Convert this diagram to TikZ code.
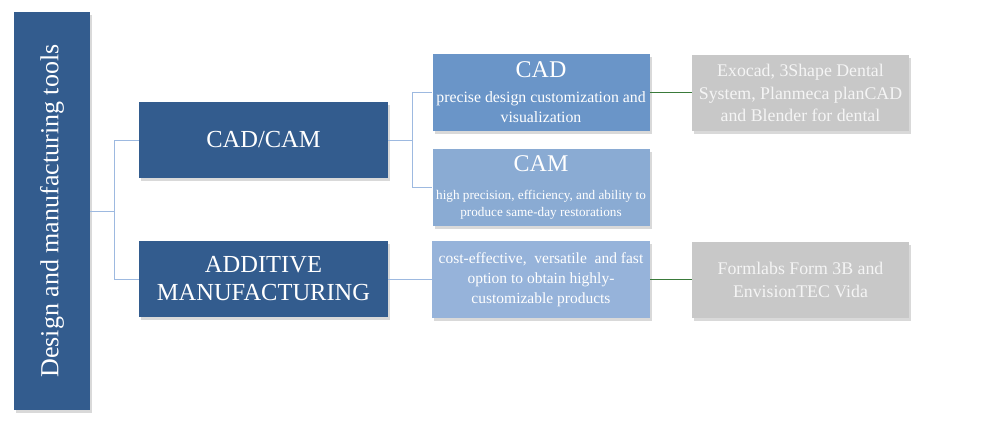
\documentclass[tikz,border=0pt]{standalone}
\usepackage{fontspec}
\setmainfont{Liberation Serif}
\usetikzlibrary{shadows}

\definecolor{darkblue}{RGB}{51,92,142}
\definecolor{cadblue}{RGB}{106,149,200}
\definecolor{camblue}{RGB}{138,171,211}
\definecolor{amblue}{RGB}{150,179,218}
\definecolor{swgray}{RGB}{200,200,200}
\definecolor{linkblue}{RGB}{157,185,224}
\definecolor{linkgreen}{RGB}{58,122,58}

\tikzset{
  box/.style={draw=none, text=white, align=center, inner sep=2pt,
    drop shadow={opacity=0.3, shadow xshift=2pt, shadow yshift=-3pt}},
  rootbox/.style={box, fill=darkblue, minimum width=76pt, minimum height=398pt},
  mainbox/.style={box, fill=darkblue, minimum width=249pt, minimum height=76pt,
    font=\fontsize{24.5}{28}\selectfont},
  descbox/.style={box, minimum width=217pt, minimum height=77pt},
  swbox/.style={box, fill=swgray, text=white!96!black, minimum width=217pt, minimum height=76pt,
    font=\fontsize{17.8}{22.5}\selectfont},
  link/.style={draw=linkblue, line width=1pt},
  swlink/.style={draw=linkgreen, line width=1pt}
}

\begin{document}
\begin{tikzpicture}[x=1pt,y=-1pt]
\useasboundingbox (0,0) rectangle (1000,429);

\node[rootbox] (root) at (52,211) {\rotatebox{90}{\fontsize{26}{28}\selectfont Design and manufacturing tools}};

\node[mainbox] (cadcam) at (263.5,140) {CAD/CAM};
\node[mainbox] (additive) at (263.5,279) {ADDITIVE\\MANUFACTURING};

\node[descbox, fill=cadblue, font=\fontsize{15.8}{20}\selectfont] (cad) at (541,92.5)
  {{\fontsize{24}{24}\selectfont CAD}\\[5pt]
   precise design customization and\\visualization};
\node[descbox, fill=camblue, font=\fontsize{13.2}{17}\selectfont] (cam) at (541,187.5)
  {{\fontsize{24}{24}\selectfont CAM}\\[11pt]
   high precision, efficiency, and ability to\\produce same-day restorations};
\node[descbox, fill=amblue, minimum width=218pt, font=\fontsize{15.5}{20}\selectfont] (amdesc) at (541,279.5)
  {cost-effective,\ \ versatile\ \ and fast\\option to obtain highly-\\customizable products};

\node[swbox] (cadsw) at (800.5,93) {Exocad, 3Shape Dental\\System, Planmeca planCAD\\and Blender for dental};
\node[swbox] (amsw) at (800.5,280) {Formlabs Form 3B and\\EnvisionTEC Vida};

\draw[link] (root.east) -- ++(24,0) coordinate (j1);
\draw[link] (j1) |- (cadcam.west);
\draw[link] (j1) |- (additive.west);
\draw[link] (cadcam.east) -- ++(24,0) coordinate (j2);
\draw[link] (j2) |- (cad.west);
\draw[link] (j2) |- (cam.west);
\draw[link] (additive.east) -- (additive.east -| amdesc.west);
\draw[swlink] (cad.east) -- (cad.east -| cadsw.west);
\draw[swlink] (amdesc.east) -- (amdesc.east -| amsw.west);
\end{tikzpicture}
\end{document}
